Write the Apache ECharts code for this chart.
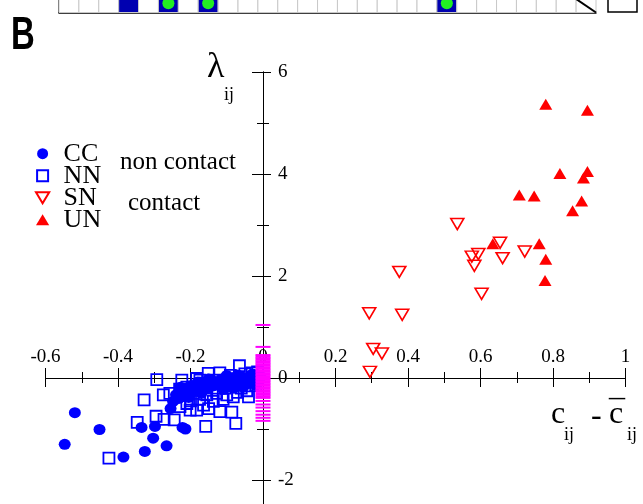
<!DOCTYPE html>
<html><head><meta charset="utf-8">
<script src="https://cdn.jsdelivr.net/npm/echarts@6/dist/echarts.min.js"></script>
<style>html,body{margin:0;padding:0;background:#fff}#c{width:643px;height:504px}</style>
</head><body><div id="c"></div>
<script>
// ---- data ----
const ccData = [[-0.519,-0.68],[-0.451,-1.01],[-0.547,-1.30],[-0.385,-1.55],[-0.326,-1.44],[-0.303,-1.18],[-0.266,-1.33],[-0.335,-0.97],[-0.298,-0.95],[-0.222,-0.97],[-0.214,-1.00],[-0.255,-0.60],[-0.240,-0.33],[-0.248,-0.46],[-0.232,-0.40],[-0.205,-0.38],[-0.190,-0.25],[-0.170,-0.30],[-0.150,-0.20],[-0.135,-0.15],[-0.120,-0.10],[-0.105,-0.05],[-0.095,-0.15],[-0.085,0.00],[-0.075,-0.08],[-0.065,-0.15],[-0.060,0.03],[-0.050,-0.05],[-0.045,-0.12],[-0.035,0.05],[-0.030,-0.03],[-0.025,-0.10],[-0.018,0.02],[-0.012,-0.06],[-0.008,0.04],[-0.110,-0.22],[-0.140,-0.05],[-0.160,-0.12],[-0.180,-0.08],[-0.200,-0.15],[-0.220,-0.25],[-0.100,0.05],[-0.090,-0.08],[-0.080,-0.20],[-0.070,0.06],[-0.055,-0.18],[-0.040,-0.02],[-0.028,0.08],[-0.020,-0.14],[-0.010,-0.01],[-0.115,-0.02],[-0.130,-0.08],[-0.150,-0.02],[-0.165,-0.20],[-0.185,-0.18],[-0.210,-0.28],[-0.228,-0.18]];
const nnData = [[-0.293,-0.03],[-0.224,-0.04],[-0.328,-0.43],[-0.347,-0.87],[-0.295,-0.75],[-0.273,-0.81],[-0.245,-0.82],[-0.275,-0.33],[-0.257,-0.30],[-0.425,-1.57],[-0.158,-0.95],[-0.075,-0.89],[-0.119,-0.66],[-0.086,-0.67],[-0.065,0.24],[-0.151,0.09],[-0.183,-0.01],[-0.119,0.10],[-0.201,-0.63],[-0.183,-0.63],[-0.229,-0.56],[-0.210,-0.50],[-0.164,-0.53],[-0.137,-0.46],[-0.082,-0.37],[-0.040,-0.37],[-0.192,-0.30],[-0.174,-0.24],[-0.155,-0.33],[-0.128,-0.30],[-0.100,-0.33],[-0.174,-0.04],[-0.160,-0.10],[-0.137,-0.04],[-0.030,0.10],[-0.090,0.05],[-0.060,-0.20],[-0.105,-0.20],[-0.140,-0.20],[-0.210,-0.18],[-0.230,-0.22],[-0.020,-0.15],[-0.050,0.08],[-0.015,0.12],[-0.200,-0.45],[-0.175,-0.42],[-0.110,-0.42],[-0.070,-0.28],[-0.045,-0.25],[-0.150,-0.60]];
const snData = [[0.536,3.02],[0.654,2.65],[0.576,2.38],[0.594,2.43],[0.583,2.20],[0.661,2.35],[0.722,2.48],[0.376,2.08],[0.603,1.65],[0.293,1.27],[0.384,1.24],[0.304,0.57],[0.328,0.48],[0.295,0.12]];
const unData = [[0.780,5.37],[0.895,5.25],[0.819,4.01],[0.895,4.05],[0.884,3.92],[0.707,3.59],[0.748,3.57],[0.879,3.47],[0.854,3.28],[0.634,2.63],[0.762,2.63],[0.780,2.33],[0.778,1.91]];
const magentaY = [1.04,0.61,0.45,0.42,0.39,0.36,0.33,0.30,0.27,0.24,0.21,0.18,0.15,0.12,0.09,0.06,0.03,0.00,-0.03,-0.06,-0.09,-0.12,-0.15,-0.18,-0.21,-0.24,-0.27,-0.30,-0.33,-0.36,-0.39,-0.45,-0.52,-0.58,-0.65,-0.72,-0.78,-0.84];
const magentaX = 0;
const stripKinds = [0,0,0,1,0,1,0,1,0,0,0,0,0,0,0,0,0,0,0,1,0,0,0,0,0,0,2];
const stripDots = [5,7,19];
const xTickLabels = ['-0.6','-0.4','-0.2','0','0.2','0.4','0.6','0.8','1'];
const yTickLabels = ['0','2','4','6'];
const yTickLabelsNeg = ['-4','-2'];
const seriesNames = ['CC','NN','SN','UN'];
const noteTexts = ['non contact','contact'];

// ---- chart ----
const serif = "'Liberation Serif','Times New Roman',serif";
const BLUE = '#0000ff', RED = '#ff0000', MAG = '#ff00ff';
const xMin = -0.6, xMax = 1, xStep = 0.2, yMin = -4, yMax = 6, yStep = 2;
const chart = echarts.init(document.getElementById('c'), null, {renderer:'canvas'});

function yLabel(v){
  const k = Math.round(v/yStep);
  return k >= 0 ? yTickLabels[k] : yTickLabelsNeg[k + yTickLabelsNeg.length];
}
function xAxisDef(inside) {
  return {
    type:'value', gridIndex:2, position:'bottom', min:xMin, max:xMax, interval:xStep,
    splitLine:{show:false},
    axisLine:{show:true, onZero:false, lineStyle:{color:'#000', width:1}},
    axisTick:{show:true, inside:inside, length: inside?10:9, lineStyle:{color:'#000', width:1}},
    minorTick:{show:true, splitNumber:2, length: inside?6:5, lineStyle:{color:'#000', width:1}},
    axisLabel:{show:!inside, inside:true, margin:11, fontFamily:serif, fontSize:19, color:'#000',
      showMinLabel:true, showMaxLabel:true,
      formatter:v=>xTickLabels[Math.round((v-xMin)/xStep)]}
  };
}
function yAxisDef(inside) {
  return {
    type:'value', gridIndex:3, position:'left', min:yMin, max:yMax, interval:yStep,
    splitLine:{show:false},
    axisLine:{show:true, onZero:false, lineStyle:{color:'#000', width:1}},
    axisTick:{show:true, inside:inside, length: inside?8:11, lineStyle:{color:'#000', width:1}},
    minorTick:{show:true, splitNumber:2, length:6, lineStyle:{color:'#000', width:1}},
    axisLabel:{show:!inside, inside:true, margin:15, fontFamily:serif, fontSize:19, color:'#000',
      showMinLabel:true, showMaxLabel:true, formatter:yLabel}
  };
}
const hidden = (g, min, max) => ({type:'value', gridIndex:g, min:min, max:max, show:false, splitLine:{show:false}});

const option = {
  animation:false,
  backgroundColor:'#fff',
  grid:[
    {left:45.5, right:17.5, top:72, bottom:-78, outerBoundsMode:'none', containLabel:false},
    {left:59, width:537, top:-1, height:13.5, outerBoundsMode:'none', containLabel:false},
    {left:45.5, right:17.5, top:72, height:306, outerBoundsMode:'none', containLabel:false},
    {left:263, right:17.5, top:72, bottom:-78, outerBoundsMode:'none', containLabel:false}
  ],
  xAxis:[
    hidden(0, xMin, xMax),
    {type:'category', gridIndex:1, data:stripKinds.map((_,i)=>i), boundaryGap:true,
     axisLine:{show:true, onZero:false, lineStyle:{color:'#000', width:1.5}}, axisTick:{show:false}, axisLabel:{show:false}, splitLine:{show:false}},
    xAxisDef(false), xAxisDef(true),
    hidden(3, 0, 1)
  ],
  yAxis:[
    hidden(0, yMin, yMax),
    {type:'value', gridIndex:1, min:0, max:1,
     axisLine:{show:true, onZero:false, lineStyle:{color:'#000', width:1.5}}, axisTick:{show:false}, axisLabel:{show:false}, splitLine:{show:false}},
    hidden(2, 0, yMax),
    yAxisDef(false), yAxisDef(true)
  ],
  legend:{
    orient:'vertical', left:35, top:140.7, padding:0, itemGap:-4, itemWidth:32, itemHeight:11,
    selectedMode:false,
    data:[
      {name:seriesNames[0], icon:'circle'},
      {name:seriesNames[1], icon:'path://M0,0 L10,0 L10,10 L0,10 Z'},
      {name:seriesNames[2], icon:'path://M0,0 L12,0 L6,10 Z'},
      {name:seriesNames[3], icon:'path://M6,0 L12,10 L0,10 Z'}
    ],
    textStyle:{fontFamily:serif, fontSize:26, color:'#000'}
  },
  series:[
    {name:seriesNames[1], type:'scatter', xAxisIndex:0, yAxisIndex:0, data:nnData, symbol:'rect', symbolSize:11,
     itemStyle:{color:'rgba(255,255,255,0)', borderColor:BLUE, borderWidth:1.8, opacity:1}, z:3},
    {name:seriesNames[0], type:'scatter', xAxisIndex:0, yAxisIndex:0, data:ccData, symbol:'circle', symbolSize:[12,11],
     itemStyle:{color:BLUE, opacity:1}, z:4},
    {name:seriesNames[2], type:'scatter', xAxisIndex:0, yAxisIndex:0, data:snData, symbol:'path://M0,0 L12,0 L6,10 Z', symbolSize:[13,11],
     itemStyle:{color:'rgba(255,255,255,0)', borderColor:RED, borderWidth:1.6, opacity:1}, z:3},
    {name:seriesNames[3], type:'scatter', xAxisIndex:0, yAxisIndex:0, data:unData, symbol:'triangle', symbolSize:[13,11],
     itemStyle:{color:RED, opacity:1}, z:3},
    {name:'diag', type:'scatter', xAxisIndex:0, yAxisIndex:0, data:magentaY.map(y=>[magentaX,y]), symbol:'rect', symbolSize:[15,2],
     itemStyle:{color:MAG, opacity:1}, z:5},
    {name:'strip', type:'custom', xAxisIndex:1, yAxisIndex:1, data:stripKinds.map((k,i)=>[i,k]),
     renderItem:function(params, api){
       const i = api.value(0), k = api.value(1);
       const top = api.coord([i,1]), bot = api.coord([i,0]);
       const w = api.size([1,1])[0];
       const x0 = top[0]-w/2, y0 = top[1], h = bot[1]-top[1];
       const children = [{type:'rect', shape:{x:x0, y:y0, width:w, height:h},
         style:{fill: k===1 ? '#0000b0' : '#fff', stroke:'#c8c8c8', lineWidth:1}}];
       if (k===2) children.push({type:'line', shape:{x1:x0, y1:y0, x2:x0+w, y2:y0+h}, style:{stroke:'#000', lineWidth:2}});
       return {type:'group', children:children};
     }, z:1},
    {name:'dots', type:'scatter', xAxisIndex:1, yAxisIndex:1, data:stripDots.map(i=>[i,0.5]), symbol:'circle', symbolSize:12,
     symbolOffset:[0,-2.5], itemStyle:{color:'#22ee22', opacity:1}, z:3}
  ],
  graphic:[
    {type:'text', x:11, y:13, scaleX:0.7, style:{text:'B', font:"bold 47px 'Liberation Sans','DejaVu Sans',sans-serif", fill:'#000'}},
    {type:'rect', shape:{x:608, y:-5, width:29, height:17}, style:{fill:'none', stroke:'#000', lineWidth:1.5}},
    {type:'text', x:120, y:162, style:{text:noteTexts[0], font:"25px "+serif, fill:'#000', verticalAlign:'middle'}},
    {type:'text', x:128, y:203, style:{text:noteTexts[1], font:"25px "+serif, fill:'#000', verticalAlign:'middle'}},
    {type:'text', x:207, y:68, style:{text:'λ', font:"36px "+serif, fill:'#000', verticalAlign:'middle'}},
    {type:'text', x:224, y:95, style:{text:'ij', font:"18px "+serif, fill:'#000', verticalAlign:'middle'}},
    {type:'text', x:551, y:415, style:{text:'c', font:"32px "+serif, fill:'#000', verticalAlign:'middle'}},
    {type:'text', x:564, y:435, style:{text:'ij', font:"18px "+serif, fill:'#000', verticalAlign:'middle'}},
    {type:'text', x:591, y:417, style:{text:'-', font:"32px "+serif, fill:'#000', verticalAlign:'middle'}},
    {type:'text', x:609, y:415, style:{text:'c', font:"32px "+serif, fill:'#000', verticalAlign:'middle'}},
    {type:'text', x:609, y:414, style:{text:'¯', font:"32px "+serif, fill:'#000', verticalAlign:'middle'}},
    {type:'text', x:627, y:435, style:{text:'ij', font:"18px "+serif, fill:'#000', verticalAlign:'middle'}}
  ]
};
chart.setOption(option);
</script></body></html>
